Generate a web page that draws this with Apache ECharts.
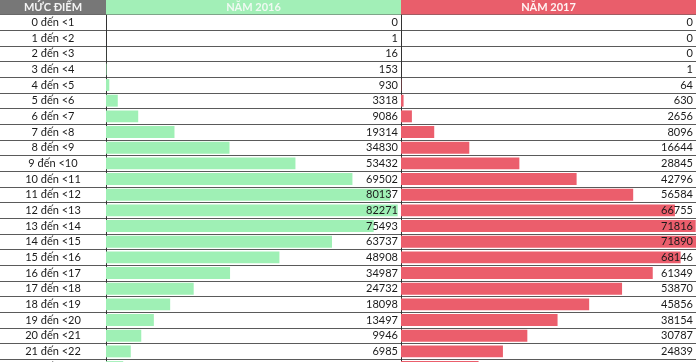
<!DOCTYPE html>
<html><head><meta charset="utf-8">
<script src="https://cdn.jsdelivr.net/npm/echarts@6/dist/echarts.min.js"></script>
<style>html,body{margin:0;padding:0;background:#fff;overflow:hidden}#c{width:696px;height:378px}</style>
</head><body><div id="c"></div>
<script>
const categories = ["0 đến <1","1 đến <2","2 đến <3","3 đến <4","4 đến <5","5 đến <6","6 đến <7","7 đến <8","8 đến <9","9 đến <10","10 đến <11","11 đến <12","12 đến <13","13 đến <14","14 đến <15","15 đến <16","16 đến <17","17 đến <18","18 đến <19","19 đến <20","20 đến <21","21 đến <22","22 đến <23"];
const values2016 = [0,1,16,153,930,3318,9086,19314,34830,53432,69502,80137,82271,75493,63737,48908,34987,24732,18098,13497,9946,6985,4850];
const values2017 = [0,0,0,1,64,630,2656,8096,16644,28845,42796,56584,66755,71816,71890,68146,61349,53870,45856,38154,30787,24839,18900];
const headerLabels = ["MỨC ĐIỂM","NĂM 2016","NĂM 2017"];

const FONT = 'Lato';
const ROW = 15.67, TOP = 14.5, H = ROW * categories.length;
const MAX16 = 83200, MAX17 = 71890;
const lineColor = '#5a5a5a';
const green = '#9ff0b5', red = '#eb5e6c';

const chart = echarts.init(document.getElementById('c'), null, {renderer:'canvas'});
function yCat(gi, extra){
  return Object.assign({
    type:'category', gridIndex:gi, data:categories, inverse:true,
    axisTick:{show:false}, axisLabel:{show:false},
    axisLine:{show:false},
    splitLine:{show:true, interval:0, lineStyle:{color:lineColor, width:1}}
  }, extra||{});
}
function xVal(gi, max){
  return {type:'value', gridIndex:gi, min:0, max:max, show:false, splitLine:{show:false}};
}
const valueLabel = (arr) => ({
  show:true, position:'insideRight', distance:3,
  fontFamily:FONT, fontSize:11, color:'#1a1a1a',
  formatter:(p)=> String(arr[p.dataIndex])
});
chart.setOption({
  animation:false,
  grid:[
    {left:0, width:106, top:TOP, height:H},
    {left:106, width:295, top:TOP, height:H},
    {left:401, width:295, top:TOP, height:H}
  ],
  xAxis:[xVal(0,1), xVal(1,MAX16), xVal(2,MAX17)],
  yAxis:[
    yCat(0,{axisLabel:{show:true, inside:true, margin:53, align:'center', fontFamily:FONT, fontSize:11, color:'#1a1a1a'}}),
    yCat(1,{axisLine:{show:true, lineStyle:{color:'#333', width:1}}}),
    yCat(2,{axisLine:{show:true, lineStyle:{color:'#333', width:1}}})
  ],
  series:[
    {type:'bar', xAxisIndex:1, yAxisIndex:1, data:values2016, barCategoryGap:'24%', itemStyle:{color:green}, z:2},
    {type:'bar', xAxisIndex:1, yAxisIndex:1, data:values2016.map(()=>MAX16), barGap:'-100%', itemStyle:{color:'rgba(0,0,0,0)'}, label:valueLabel(values2016), z:3, silent:true},
    {type:'bar', xAxisIndex:2, yAxisIndex:2, data:values2017, barCategoryGap:'24%', itemStyle:{color:red}, z:2},
    {type:'bar', xAxisIndex:2, yAxisIndex:2, data:values2017.map(()=>MAX17), barGap:'-100%', itemStyle:{color:'rgba(0,0,0,0)'}, label:valueLabel(values2017), z:3, silent:true}
  ],
  graphic:[
    {type:'rect', shape:{x:0,y:0,width:106,height:TOP}, style:{fill:'#777777'}, z:10},
    {type:'rect', shape:{x:106,y:0,width:295,height:TOP}, style:{fill:'#a2efb7'}, z:10},
    {type:'rect', shape:{x:401,y:0,width:295,height:TOP}, style:{fill:'#e95e6b'}, z:10},
    {type:'text', x:53, y:7.5, style:{text:headerLabels[0], fill:'#f4f4f4', font:'bold 11px '+FONT, align:'center', verticalAlign:'middle'}, z:11},
    {type:'text', x:253.5, y:7.5, style:{text:headerLabels[1], fill:'#effaf2', font:'bold 11px '+FONT, align:'center', verticalAlign:'middle'}, z:11},
    {type:'text', x:548.5, y:7.5, style:{text:headerLabels[2], fill:'#fff4f4', font:'bold 11px '+FONT, align:'center', verticalAlign:'middle'}, z:11}
  ]
});
</script></body></html>
